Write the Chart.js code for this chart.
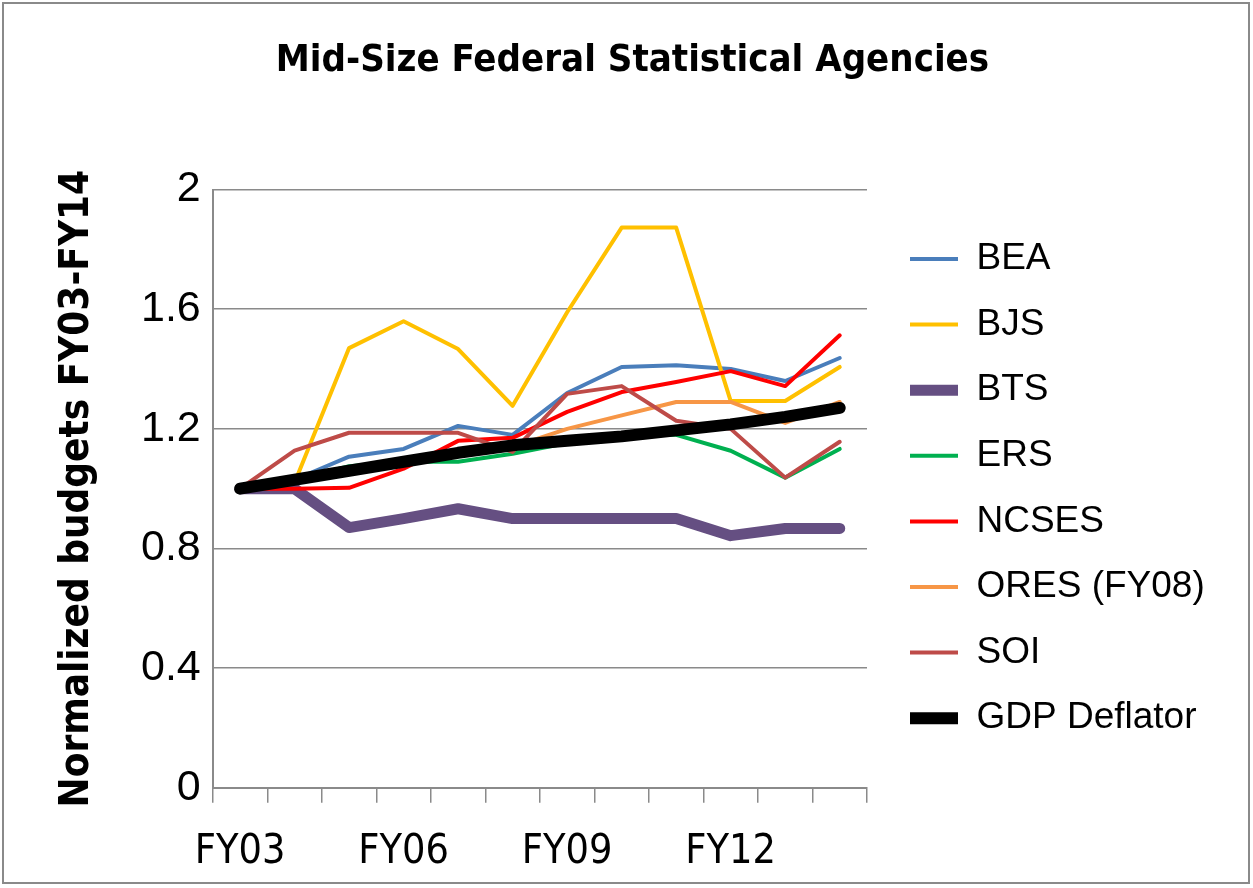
<!DOCTYPE html>
<html>
<head>
<meta charset="utf-8">
<script src="https://cdn.jsdelivr.net/npm/chart.js@4.4.0/dist/chart.umd.min.js"></script>
<style>
  html, body { margin: 0; padding: 0; background: #fff; }
  #wrap { position: absolute; left: 2px; top: 2px; width: 1248px; height: 882px; border: 2px solid #8a8a8a; box-sizing: border-box; }
  #c { position: absolute; left: 0; top: 0; }
</style>
</head>
<body>
<div id="wrap"></div>
<canvas id="c" width="1253" height="888"></canvas>
<script>
const categories = ['FY03','FY04','FY05','FY06','FY07','FY08','FY09','FY10','FY11','FY12','FY13','FY14'];
const shownLabels = ['FY03','FY06','FY09','FY12'];
const yTicks = [0, 0.4, 0.8, 1.2, 1.6, 2];

const BEA   = [1.0, 1.03, 1.107, 1.133, 1.21, 1.18, 1.32, 1.407, 1.413, 1.40, 1.36, 1.437];
const BJS   = [1.0, 1.02, 1.47, 1.56, 1.467, 1.277, 1.59, 1.873, 1.873, 1.293, 1.293, 1.407];
const BTS   = [1.0, 1.0, 0.87, 0.90, 0.933, 0.90, 0.90, 0.90, 0.90, 0.843, 0.867, 0.867];
const ERS   = [1.0, 1.03, 1.075, 1.09, 1.09, 1.117, 1.153, 1.18, 1.18, 1.127, 1.037, 1.133];
const NCSES = [1.0, 1.0, 1.003, 1.067, 1.16, 1.17, 1.257, 1.323, 1.357, 1.393, 1.343, 1.513];
const ORES  = [null, null, null, null, null, 1.14, 1.2, 1.245, 1.29, 1.29, 1.22, 1.29];
const SOI   = [1.0, 1.127, 1.187, 1.187, 1.187, 1.123, 1.317, 1.343, 1.227, 1.2, 1.037, 1.157];
const GDP   = [1.0, 1.03, 1.06, 1.09, 1.12, 1.145, 1.16, 1.175, 1.195, 1.215, 1.24, 1.27];

const seriesNames = ['BEA','BJS','BTS','ERS','NCSES','ORES (FY08)','SOI','GDP Deflator'];
const seriesData = [BEA, BJS, BTS, ERS, NCSES, ORES, SOI, GDP];
const seriesColors = ['#4A7EBB','#FFC000','#654F82','#00B050','#FF0000','#F79646','#BE4B48','#000000'];
const seriesWidths = [4, 4, 11, 4, 4, 4, 4, 12];

const narrow = '"Liberation Sans Narrow", "DejaVu Sans Condensed", "Liberation Sans", sans-serif';
const regular = '"Liberation Sans", Arial, sans-serif';

const LEGEND_LINE_X = 910;   // where the first legend sample should begin
const LEGEND_FIRST_Y = 259;  // centre of the first legend row

const blockShift = {
  id: 'blockShift',
  afterLayout(chart) {
    const lg = chart.legend;
    if (lg && lg.columnSizes && lg.columnSizes.length) {
      const pad = lg.options.labels.padding;
      const fs = lg.options.labels.font.size;
      const dx = LEGEND_LINE_X - (lg.left + pad);
      const start = (lg.top + pad + lg.bottom - lg.columnSizes[0].height) / 2;
      const dy = LEGEND_FIRST_Y - (start + fs / 2);
      lg.left += dx; lg.right = chart.width;
      lg.top += dy; lg.bottom += dy;
    }
    const tb = chart.titleBlock;
    if (tb) { tb.left = 12; tb.right = chart.width; }
  }
};

const datasets = seriesNames.map((name, i) => ({
  label: name,
  data: seriesData[i],
  borderColor: seriesColors[i],
  backgroundColor: seriesColors[i],
  borderWidth: seriesWidths[i],
  borderCapStyle: 'round',
  borderJoinStyle: 'round',
  pointRadius: 0,
  pointHoverRadius: 0,
  tension: 0,
  fill: false,
  spanGaps: false,
  order: seriesNames.length - 1 - i
}));

new Chart(document.getElementById('c'), {
  type: 'line',
  data: { labels: categories, datasets },
  plugins: [blockShift],
  options: {
    responsive: false,
    animation: false,
    devicePixelRatio: 1,
    layout: { padding: { left: 54, right: 115, top: 0, bottom: -14 } },
    plugins: {
      title: {
        display: true,
        text: 'Mid-Size Federal Statistical Agencies',
        color: '#000',
        font: { family: narrow, size: 38, weight: 'bold' },
        padding: { top: 38, bottom: 106 }
      },
      legend: {
        position: 'right',
        align: 'center',
        labels: {
          usePointStyle: true,
          pointStyle: 'line',
          pointStyleWidth: 48,
          color: '#000',
          font: { family: regular, size: 37 },
          padding: 28.6,
          sort: (a, b) => a.datasetIndex - b.datasetIndex
        }
      },
      tooltip: { enabled: false }
    },
    scales: {
      x: {
        type: 'category',
        offset: true,
        grid: {
          display: true,
          offset: true,
          drawOnChartArea: false,
          drawTicks: true,
          tickLength: 15,
          color: '#8a8a8a',
          lineWidth: 1.5
        },
        border: { display: true, color: '#8a8a8a', width: 2 },
        ticks: {
          autoSkip: false,
          maxRotation: 0,
          color: '#000',
          font: { family: narrow, size: 41 },
          padding: 25,
          callback: function(value, index) {
            const lab = categories[index];
            return shownLabels.includes(lab) ? lab : '';
          }
        }
      },
      y: {
        min: 0,
        max: 2,
        afterBuildTicks: (axis) => { axis.ticks = yTicks.map(v => ({ value: v })); },
        grid: {
          color: '#8a8a8a',
          lineWidth: 1.5,
          drawTicks: false
        },
        border: { display: true, color: '#8a8a8a', width: 2 },
        ticks: {
          color: '#000',
          font: { family: regular, size: 43 },
          padding: 12,
          callback: (v) => String(v)
        },
        title: {
          display: true,
          text: 'Normalized budgets FY03-FY14',
          color: '#000',
          font: { family: narrow, size: 40, weight: 'bold' },
          padding: { top: 0, bottom: 27 }
        }
      }
    }
  }
});
</script>
</body>
</html>
